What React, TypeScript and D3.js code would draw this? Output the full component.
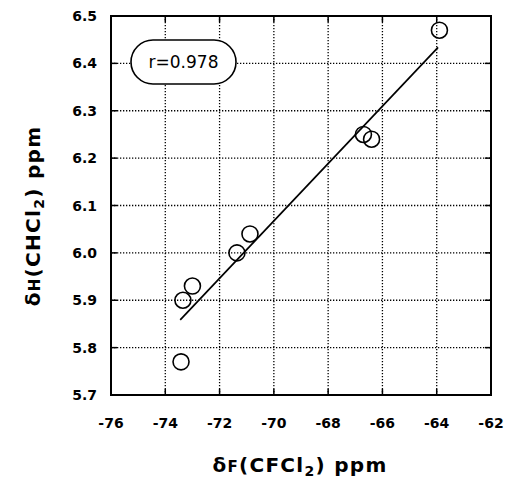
import React, { useEffect, useRef } from 'react'
import * as d3 from 'd3'

// shifts
const deltaF = [-73.42, -73.35, -73.0, -71.36, -70.88, -66.7, -66.4, -63.9]
const deltaH = [5.77, 5.9, 5.93, 6.0, 6.04, 6.25, 6.24, 6.47]
const xTicks = [-76, -74, -72, -70, -68, -66, -64, -62]
const yTicks = [5.7, 5.8, 5.9, 6.0, 6.1, 6.2, 6.3, 6.4, 6.5]
const fitRange = [-73.45, -63.95]

const W = 506
const H = 482
const font = '"DejaVu Sans", Arial, sans-serif'

export default function App() {
    const ref = useRef<SVGSVGElement>(null)

    useEffect(() => {
        const margin = { top: 16, right: 15, bottom: 87, left: 111 }
        const width = W - margin.left - margin.right
        const height = H - margin.top - margin.bottom

        const x = d3.scaleLinear().domain([-76, -62]).range([0, width])
        const y = d3.scaleLinear().domain([5.7, 6.5]).range([height, 0])

        const svg = d3.select(ref.current)
        svg.selectAll('*').remove()
        const g = svg.append('g').attr('transform', `translate(${margin.left},${margin.top})`)

        // dotted grid
        g.selectAll('.vgrid').data(xTicks.slice(1, -1)).enter().append('line')
            .attr('x1', d => x(d)).attr('x2', d => x(d))
            .attr('y1', 0).attr('y2', height)
            .attr('stroke', '#000').attr('stroke-width', 1.3)
            .attr('stroke-dasharray', '1.3,1.7')
        g.selectAll('.hgrid').data(yTicks.slice(1, -1)).enter().append('line')
            .attr('y1', d => y(d)).attr('y2', d => y(d))
            .attr('x1', 0).attr('x2', width)
            .attr('stroke', '#000').attr('stroke-width', 1.3)
            .attr('stroke-dasharray', '1.3,1.7')

        // inward ticks on all four sides
        const tl = 6
        xTicks.forEach(t => {
            g.append('line').attr('x1', x(t)).attr('x2', x(t)).attr('y1', height).attr('y2', height - tl)
                .attr('stroke', '#000').attr('stroke-width', 1.5)
            g.append('line').attr('x1', x(t)).attr('x2', x(t)).attr('y1', 0).attr('y2', tl)
                .attr('stroke', '#000').attr('stroke-width', 1.5)
        })
        yTicks.forEach(t => {
            g.append('line').attr('y1', y(t)).attr('y2', y(t)).attr('x1', 0).attr('x2', tl)
                .attr('stroke', '#000').attr('stroke-width', 1.5)
            g.append('line').attr('y1', y(t)).attr('y2', y(t)).attr('x1', width).attr('x2', width - tl)
                .attr('stroke', '#000').attr('stroke-width', 1.5)
        })

        // frame
        g.append('rect').attr('width', width).attr('height', height)
            .attr('fill', 'none').attr('stroke', '#000').attr('stroke-width', 2)

        // tick labels
        g.selectAll('.xl').data(xTicks).enter().append('text')
            .attr('x', d => x(d)).attr('y', height + 33)
            .attr('text-anchor', 'middle')
            .style('font-family', font).style('font-size', '14px').style('font-weight', 'bold')
            .text(d => d)
        g.selectAll('.yl').data(yTicks).enter().append('text')
            .attr('x', -14).attr('y', d => y(d) + 5)
            .attr('text-anchor', 'end')
            .style('font-family', font).style('font-size', '14px').style('font-weight', 'bold')
            .text(d => d.toFixed(1))

        // least squares fit
        const mx = d3.mean(deltaF) as number
        const my = d3.mean(deltaH) as number
        const sxy = d3.sum(deltaF, (d, i) => (d - mx) * (deltaH[i] - my))
        const sxx = d3.sum(deltaF, d => (d - mx) * (d - mx))
        const syy = d3.sum(deltaH, d => (d - my) * (d - my))
        const slope = sxy / sxx
        const r = sxy / Math.sqrt(sxx * syy)
        const line = d3.line<number>().x(d => x(d)).y(d => y(my + slope * (d - mx)))
        g.append('path').datum(fitRange)
            .attr('d', line)
            .attr('fill', 'none').attr('stroke', '#000').attr('stroke-width', 1.7)

        // points
        g.selectAll('.dot').data(deltaF).enter().append('circle')
            .attr('cx', d => x(d)).attr('cy', (d, i) => y(deltaH[i]))
            .attr('r', 8)
            .attr('fill', 'none').attr('stroke', '#000').attr('stroke-width', 1.6)

        // r label
        const bx = 20, by = 24, bw = 105, bh = 44
        g.append('rect').attr('x', bx).attr('y', by).attr('width', bw).attr('height', bh)
            .attr('rx', 22).attr('ry', 22)
            .attr('fill', '#fff').attr('stroke', '#000').attr('stroke-width', 1.6)
        g.append('text').attr('x', bx + bw / 2).attr('y', by + bh / 2 + 6)
            .attr('text-anchor', 'middle')
            .style('font-family', font).style('font-size', '17px')
            .text('r=' + r.toFixed(3))

        // axis titles
        const xt = svg.append('text')
            .attr('x', margin.left + width / 2 - 1).attr('y', 472)
            .attr('text-anchor', 'middle')
            .style('font-family', font).style('font-size', '20px').style('font-weight', 'bold')
            .style('letter-spacing', '1.3px')
        xt.append('tspan').text('δ')
        xt.append('tspan').style('font-size', '15px').text('F')
        xt.append('tspan').text('(CFCl')
        xt.append('tspan').style('font-size', '14px').attr('dy', 4).text('2')
        xt.append('tspan').attr('dy', -4).text(') ppm')

        const yt = svg.append('text')
            .attr('transform', `translate(40,${216}) rotate(-90)`)
            .attr('text-anchor', 'middle')
            .style('font-family', font).style('font-size', '20px').style('font-weight', 'bold')
            .style('letter-spacing', '1.3px')
        yt.append('tspan').text('δ')
        yt.append('tspan').style('font-size', '15px').text('H')
        yt.append('tspan').text('(CHCl')
        yt.append('tspan').style('font-size', '14px').attr('dy', 4).text('2')
        yt.append('tspan').attr('dy', -4).text(') ppm')
    }, [])

    return (
        <svg ref={ref} width={W} height={H}
            style={{ position: 'absolute', left: 0, top: 0, background: '#fff' }} />
    )
}
